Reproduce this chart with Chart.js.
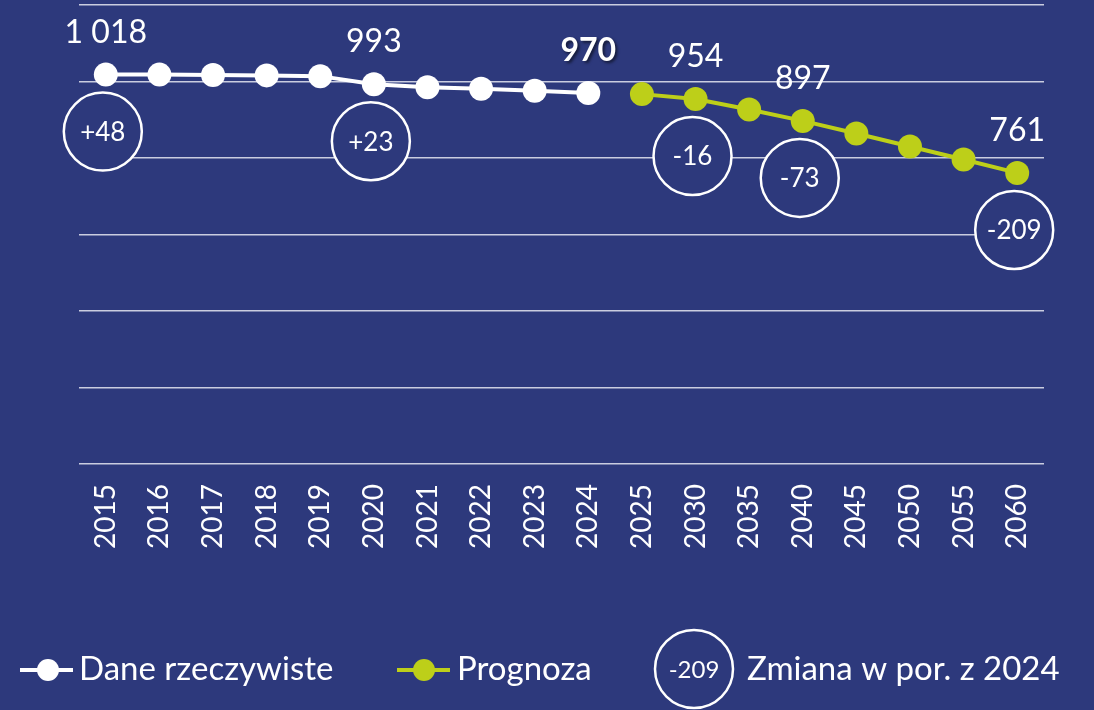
<!DOCTYPE html>
<html lang="pl">
<head>
<meta charset="utf-8">
<script src="https://cdn.jsdelivr.net/npm/chart.js@4.4.1/dist/chart.umd.min.js"></script>
<style>
  html, body { margin: 0; padding: 0; background: #2D397C; }
  #wrap { position: relative; width: 1094px; height: 710px; background: #2D397C; }
</style>
</head>
<body>
<div id="wrap"><canvas id="c"></canvas></div>
<script>
// ---- data ----
const categories = ['2015','2016','2017','2018','2019','2020','2021','2022','2023','2024','2025','2030','2035','2040','2045','2050','2055','2060'];
const actualValues   = [1018, 1018, 1017, 1016, 1014, 993, 985, 981, 976, 970, null, null, null, null, null, null, null, null];
const forecastValues = [null, null, null, null, null, null, null, null, null, null, 967, 954, 927, 897, 864, 830, 796, 761];
const valueLabels    = ['1 018', null, null, null, null, '993', null, null, null, '970', null, '954', null, '897', null, null, null, '761'];
const boldLabels     = [false, false, false, false, false, false, false, false, false, true, false, false, false, false, false, false, false, false];
const changeLabels   = ['+48', null, null, null, null, '+23', null, null, null, null, null, '-16', null, '-73', null, null, null, '-209'];
const yTicks = [0, 200, 400, 600, 800, 1000, 1200];
const legendLabels = ['Dane rzeczywiste', 'Prognoza', 'Zmiana w por. z 2024'];
const legendBubbleLabel = '-209';

// ---- style ----
const BG = '#2D397C';
const WHITE = '#FFFFFF';
const GREEN = '#BDCF19';
const FONT = 'Lato, "Open Sans", sans-serif';

function pointPos(chart, idx) {
  for (let d = 0; d < chart.data.datasets.length; d++) {
    const v = chart.data.datasets[d].data[idx];
    if (v !== null && v !== undefined) {
      const el = chart.getDatasetMeta(d).data[idx];
      return { x: el.x, y: el.y };
    }
  }
  return null;
}

function drawBubble(ctx, x, y, r, text, fontSize) {
  ctx.save();
  ctx.beginPath();
  ctx.arc(x, y, r, 0, Math.PI * 2);
  ctx.fillStyle = BG;
  ctx.fill();
  ctx.lineWidth = 2.5;
  ctx.strokeStyle = WHITE;
  ctx.stroke();
  ctx.fillStyle = WHITE;
  ctx.font = fontSize + 'px ' + FONT;
  ctx.textAlign = 'center';
  ctx.textBaseline = 'middle';
  ctx.fillText(text, x, y + 1);
  ctx.restore();
}

const annotPlugin = {
  id: 'annot',
  beforeDraw(chart) {
    const ctx = chart.ctx;
    ctx.save();
    ctx.fillStyle = BG;
    ctx.fillRect(0, 0, chart.width, chart.height);
    ctx.restore();
  },
  afterDatasetsDraw(chart) {
    const ctx = chart.ctx;
    // bubbles
    changeLabels.forEach((t, i) => {
      if (!t) return;
      const p = pointPos(chart, i);
      if (!p) return;
      drawBubble(ctx, p.x - 3, p.y + 57, 39, t, 26);
    });
    // value labels
    valueLabels.forEach((t, i) => {
      if (!t) return;
      const p = pointPos(chart, i);
      if (!p) return;
      ctx.save();
      ctx.fillStyle = WHITE;
      ctx.textAlign = 'center';
      ctx.textBaseline = 'alphabetic';
      if (boldLabels[i]) {
        ctx.font = 'bold 32px ' + FONT;
        ctx.shadowColor = 'rgba(0,0,0,0.55)';
        ctx.shadowOffsetX = 2;
        ctx.shadowOffsetY = 2;
        ctx.shadowBlur = 3;
      } else {
        ctx.font = '32px ' + FONT;
      }
      ctx.fillText(t, p.x, p.y - 32);
      ctx.restore();
    });
    // legend
    const ly = 670;
    ctx.save();
    ctx.lineWidth = 4;
    ctx.strokeStyle = WHITE;
    ctx.beginPath(); ctx.moveTo(20, ly); ctx.lineTo(73, ly); ctx.stroke();
    ctx.fillStyle = WHITE;
    ctx.beginPath(); ctx.arc(48, ly, 11, 0, Math.PI * 2); ctx.fill();
    ctx.strokeStyle = GREEN;
    ctx.beginPath(); ctx.moveTo(397, ly); ctx.lineTo(450, ly); ctx.stroke();
    ctx.fillStyle = GREEN;
    ctx.beginPath(); ctx.arc(424, ly, 11, 0, Math.PI * 2); ctx.fill();
    ctx.fillStyle = WHITE;
    ctx.font = '33px ' + FONT;
    ctx.textAlign = 'left';
    ctx.textBaseline = 'alphabetic';
    ctx.fillText(legendLabels[0], 79, 680);
    ctx.fillText(legendLabels[1], 457, 680);
    ctx.fillText(legendLabels[2], 747, 680);
    ctx.restore();
    drawBubble(ctx, 694, 669, 39, legendBubbleLabel, 24);
  }
};

new Chart(document.getElementById('c'), {
  type: 'line',
  data: {
    labels: categories,
    datasets: [
      {
        label: legendLabels[0],
        data: actualValues,
        borderColor: WHITE,
        backgroundColor: WHITE,
        borderWidth: 4,
        pointRadius: 12,
        pointHoverRadius: 12,
        pointBorderWidth: 0,
        pointBackgroundColor: WHITE,
        spanGaps: false,
        tension: 0
      },
      {
        label: legendLabels[1],
        data: forecastValues,
        borderColor: GREEN,
        backgroundColor: GREEN,
        borderWidth: 4,
        pointRadius: 12,
        pointHoverRadius: 12,
        pointBorderWidth: 0,
        pointBackgroundColor: GREEN,
        spanGaps: false,
        tension: 0
      }
    ]
  },
  options: {
    responsive: true,
    maintainAspectRatio: false,
    animation: false,
    events: [],
    layout: { autoPadding: false, padding: { left: 79, right: 50, top: 5, bottom: 0 } },
    plugins: {
      legend: { display: false },
      tooltip: { enabled: false }
    },
    scales: {
      x: {
        offset: true,
        grid: { display: false, drawTicks: false },
        border: { display: false },
        ticks: {
          color: WHITE,
          font: { family: FONT, size: 28 },
          minRotation: 90,
          maxRotation: 90,
          padding: 20,
          autoSkip: false
        },
        afterFit(scale) { scale.height = 246; }
      },
      y: {
        min: 0,
        max: 1200,
        afterBuildTicks(scale) { scale.ticks = yTicks.map(v => ({ value: v })); },
        grid: { color: 'rgba(220,222,235,0.9)', lineWidth: 1.6, drawTicks: false },
        border: { display: false },
        ticks: { display: false }
      }
    }
  },
  plugins: [annotPlugin]
});
</script>
</body>
</html>
